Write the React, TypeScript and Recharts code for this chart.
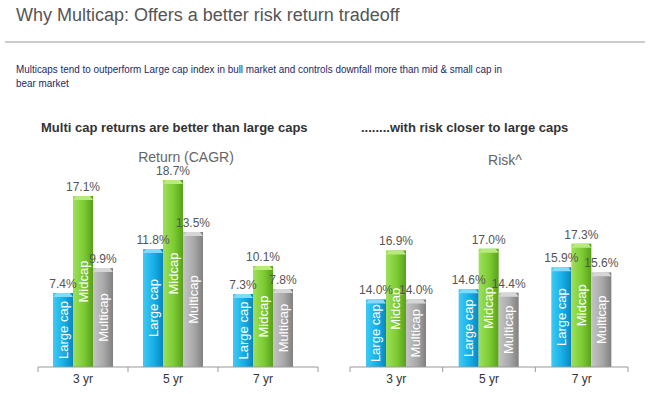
import React from 'react';
import { BarChart, Bar, XAxis, YAxis, LabelList } from 'recharts';

const periods = ['3 yr', '5 yr', '7 yr'];
const seriesNames = ['Large cap', 'Midcap', 'Multicap'];

const returnLarge = [7.4, 11.8, 7.3];
const returnMid = [17.1, 18.7, 10.1];
const returnMulti = [9.9, 13.5, 7.8];

const riskLarge = [14.0, 14.6, 15.9];
const riskMid = [16.9, 17.0, 17.3];
const riskMulti = [14.0, 14.4, 15.6];

const FONT = '"Liberation Sans", Arial, sans-serif';
const keys = ['large', 'mid', 'multi'];
const gradIds = ['gBlue', 'gGreen', 'gGray'];
const capColors = ['#7fdcf8', '#b8ea80', '#d6d6d6'];

function buildRows(a: number[], b: number[], c: number[]) {
  return periods.map((p, i) => ({ period: p, large: a[i], mid: b[i], multi: c[i] }));
}

const returnData = buildRows(returnLarge, returnMid, returnMulti);
const riskData = buildRows(riskLarge, riskMid, riskMulti);

const pct = (v: any) => Number(v).toFixed(1) + '%';

function Gradients() {
  return (
    <defs>
      <linearGradient id="gBlue" x1="0" y1="0" x2="1" y2="0">
        <stop offset="0%" stopColor="#3fcaf4" />
        <stop offset="55%" stopColor="#16aee6" />
        <stop offset="100%" stopColor="#0a86bd" />
      </linearGradient>
      <linearGradient id="gGreen" x1="0" y1="0" x2="1" y2="0">
        <stop offset="0%" stopColor="#9ee05a" />
        <stop offset="55%" stopColor="#7ccb33" />
        <stop offset="100%" stopColor="#58a01c" />
      </linearGradient>
      <linearGradient id="gGray" x1="0" y1="0" x2="1" y2="0">
        <stop offset="0%" stopColor="#c4c4c4" />
        <stop offset="55%" stopColor="#a8a8a8" />
        <stop offset="100%" stopColor="#808080" />
      </linearGradient>
    </defs>
  );
}

// bar body with a light bevelled cap on top
const bevelBar = (i: number) => (props: any) => {
  const { x, y, width, height, fill } = props;
  if (!height || height <= 0) return null;
  const cap = 4;
  return (
    <g>
      <rect x={x} y={y} width={width} height={height} fill={fill} />
      <polygon
        points={`${x},${y + cap} ${x + 3},${y} ${x + width - 3},${y} ${x + width},${y + cap}`}
        fill={capColors[i]}
      />
    </g>
  );
};

// name written upward inside the bar
const inBarLabel = (name: string) => (props: any) => {
  const { x, y, width, height } = props;
  const cx = x + width / 2;
  const cy = y + height / 2;
  return (
    <text
      x={cx}
      y={cy}
      transform={`rotate(-90 ${cx} ${cy})`}
      textAnchor="middle"
      dominantBaseline="central"
      fill="#ffffff"
      fontSize={13}
      fontFamily={FONT}
    >
      {name}
    </text>
  );
};

// category tick with boundary marks
const makeTick = (padRight: number) => (props: any) => {
  const { x, y, payload, index, visibleTicksCount, width } = props;
  const band = (width - padRight) / visibleTicksCount;
  const last = index === visibleTicksCount - 1;
  return (
    <g>
      <line x1={x - band / 2} y1={y - 8} x2={x - band / 2} y2={y - 3} stroke="#999" />
      {last && (
        <line x1={x + band / 2 + padRight} y1={y - 8} x2={x + band / 2 + padRight} y2={y - 3} stroke="#999" />
      )}
      <text x={x} y={y + 8} textAnchor="middle" fill="#333" fontSize={12} fontFamily={FONT}>
        {payload.value}
      </text>
    </g>
  );
};

function Panel({ data, domain, margin, padRight }: { data: any[]; domain: [number, number]; margin: any; padRight: number }) {
  const Tick = makeTick(padRight);
  return (
    <BarChart width={325} height={250} data={data} margin={margin} barGap={0} barSize={20}>
      <Gradients />
      <XAxis
        dataKey="period"
        axisLine={{ stroke: '#999' }}
        tickLine={false}
        tick={<Tick />}
        height={20}
        interval={0}
        padding={{ left: 0, right: padRight }}
      />
      <YAxis hide domain={domain} allowDataOverflow />
      {keys.map((k, i) => (
        <Bar key={k} dataKey={k} fill={`url(#${gradIds[i]})`} shape={bevelBar(i)} isAnimationActive={false}>
          <LabelList dataKey={k} content={inBarLabel(seriesNames[i])} />
          <LabelList
            dataKey={k}
            position="top"
            formatter={pct}
            fill="#555"
            fontSize={12}
            fontFamily={FONT}
          />
        </Bar>
      ))}
    </BarChart>
  );
}

export default function App() {
  return (
    <div
      style={{
        position: 'absolute',
        left: 0,
        top: 0,
        width: 650,
        height: 394,
        background: '#fff',
        fontFamily: FONT,
        overflow: 'hidden',
      }}
    >
      <div style={{ position: 'absolute', left: 16, top: 5, fontSize: 18, color: '#555' }}>
        Why Multicap: Offers a better risk return tradeoff
      </div>
      <div style={{ position: 'absolute', left: 5, top: 41, width: 640, height: 2, background: '#ccc' }} />
      <div
        style={{
          position: 'absolute',
          left: 16,
          top: 62,
          fontSize: 11.5,
          lineHeight: '14px',
          color: '#1c2a66',
          whiteSpace: 'nowrap',
          transform: 'scaleX(0.86)',
          transformOrigin: 'left top',
        }}
      >
        Multicaps tend to outperform Large cap index in bull market and controls downfall more than mid &amp; small cap in
        <br />
        bear market
      </div>
      <div style={{ position: 'absolute', left: 41, top: 120, fontSize: 13, fontWeight: 'bold', color: '#333' }}>
        Multi cap returns are better than large caps
      </div>
      <div style={{ position: 'absolute', left: 361, top: 120, fontSize: 13, fontWeight: 'bold', color: '#333' }}>
        ........with risk closer to large caps
      </div>
      <div style={{ position: 'absolute', left: 186, top: 149, transform: 'translateX(-50%)', fontSize: 14, color: '#666', whiteSpace: 'nowrap' }}>
        Return (CAGR)
      </div>
      <div style={{ position: 'absolute', left: 505, top: 152, transform: 'translateX(-50%)', fontSize: 14, color: '#666' }}>
        Risk^
      </div>
      <div style={{ position: 'absolute', left: 0, top: 140 }}>
        <Panel data={returnData} domain={[0, 20]} padRight={10} margin={{ top: 27, right: 7, bottom: 3, left: 38 }} />
      </div>
      <div style={{ position: 'absolute', left: 325, top: 140 }}>
        <Panel data={riskData} domain={[10, 20]} padRight={0} margin={{ top: 58, right: 22, bottom: 3, left: 25 }} />
      </div>
    </div>
  );
}
